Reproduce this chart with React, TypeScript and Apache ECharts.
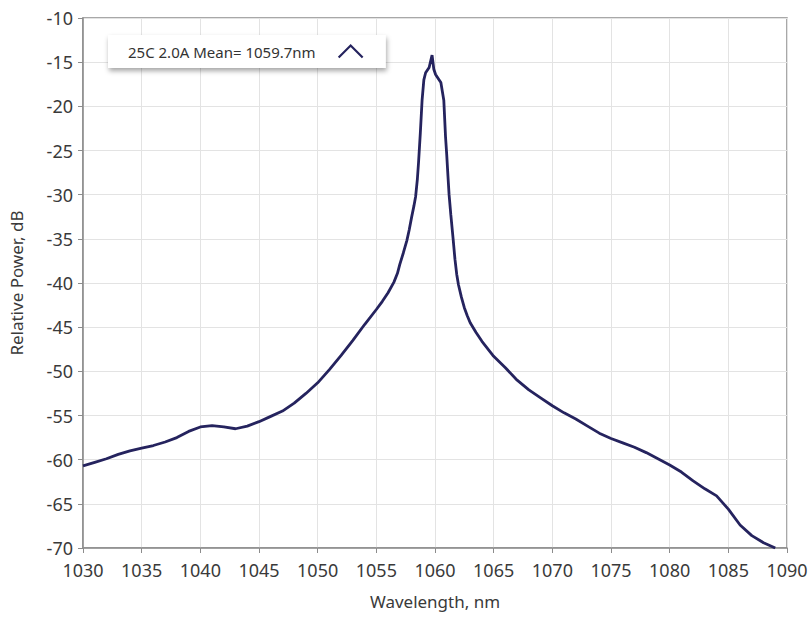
import React, { useEffect, useRef } from "react";
import * as echarts from "echarts";

const seriesName = "25C 2.0A Mean= 1059.7nm";
const xTickLabels = ["1030", "1035", "1040", "1045", "1050", "1055", "1060", "1065", "1070", "1075", "1080", "1085", "1090"];
const yTickLabels = ["-10", "-15", "-20", "-25", "-30", "-35", "-40", "-45", "-50", "-55", "-60", "-65", "-70"];

const wavelength = [
  1030, 1031, 1032, 1033, 1034, 1035, 1036, 1037, 1038, 1039, 1040, 1041, 1042, 1043, 1044, 1045,
  1046, 1047, 1048, 1049, 1050, 1051, 1052, 1053, 1054, 1055, 1055.5, 1056, 1056.5, 1056.8, 1057, 1057.3, 1057.6,
  1057.8, 1058, 1058.2, 1058.35, 1058.5, 1058.6, 1058.75, 1058.9, 1059.05, 1059.2, 1059.5, 1059.75, 1059.9, 1060.05, 1060.3,
  1060.5, 1060.75, 1060.9, 1061.0, 1061.1, 1061.2, 1061.35, 1061.55, 1061.7, 1061.85, 1062, 1062.25, 1062.5, 1062.75, 1063, 1063.5, 1064, 1065,
  1066, 1067, 1068, 1069, 1070, 1071, 1072, 1073, 1074, 1075, 1076, 1077, 1078, 1079, 1080, 1081,
  1082, 1083, 1084, 1085, 1086, 1087, 1088, 1089,
];
const power = [
  -60.7, -60.3, -59.9, -59.4, -59.0, -58.7, -58.4, -58.0, -57.5, -56.8, -56.3, -56.15, -56.3, -56.5, -56.2, -55.7,
  -55.1, -54.5, -53.6, -52.5, -51.3, -49.8, -48.2, -46.5, -44.7, -43.0, -42.1, -41.1, -39.9, -38.9, -37.9, -36.6, -35.2,
  -34.0, -32.6, -31.3, -30.2, -28.2, -26.3, -23.0, -19.3, -17.0, -16.2, -15.6, -14.2, -15.8, -16.4, -16.9,
  -17.3, -19.3, -23.5, -25.5, -27.8, -30.0, -32.3, -35.1, -37.3, -39.0, -40.2, -41.6, -42.8, -43.7, -44.5, -45.6, -46.6, -48.3,
  -49.6, -51.0, -52.1, -53.0, -53.9, -54.7, -55.4, -56.2, -57.0, -57.6, -58.1, -58.6, -59.2, -59.9, -60.6, -61.4,
  -62.4, -63.3, -64.1, -65.6, -67.4, -68.6, -69.4, -70.0,
];

const FONT = "'Noto Sans', sans-serif";
const TEXT = "#3a3a3a";
const LINE = "#25235e";

export default function App() {
  const ref = useRef<HTMLDivElement>(null);
  useEffect(() => {
    if (!ref.current) return;
    const chart = echarts.init(ref.current, null, { renderer: "svg" });
    const data = wavelength.map((w, i) => [w, power[i]]);
    chart.setOption({
      animation: false,
      backgroundColor: "#ffffff",
      grid: { left: 82, right: 25, top: 18, bottom: 71, show: true, borderColor: "#8c8c8c", borderWidth: 1.5, backgroundColor: "transparent" },
      legend: {
        show: true,
        left: 108,
        top: 35,
        align: "right",
        padding: [9, 22, 9, 20],
        itemWidth: 28,
        itemHeight: 12,
        backgroundColor: "#ffffff",
        shadowColor: "rgba(0,0,0,0.35)",
        shadowBlur: 5,
        shadowOffsetX: 1,
        shadowOffsetY: 3,
        textStyle: { color: "#333333", fontSize: 15, fontFamily: FONT, padding: [0, 16, 0, 0] },
        data: [
          {
            name: seriesName,
            icon: "path://M0,12L10,2L20,12",
            itemStyle: { color: "transparent", borderColor: LINE, borderWidth: 2.2 },
          },
        ],
      },
      xAxis: {
        type: "value",
        min: 1030,
        max: 1090,
        interval: 5,
        name: "Wavelength, nm",
        nameLocation: "middle",
        nameGap: 45,
        nameTextStyle: { color: TEXT, fontSize: 17, fontFamily: FONT },
        axisLine: { show: true, onZero: false, lineStyle: { color: "#8c8c8c", width: 1.5 } },
        axisTick: { show: true, length: 5, lineStyle: { color: "#8c8c8c" } },
        axisLabel: {
          color: TEXT,
          fontSize: 18,
          fontFamily: FONT,
          margin: 13,
          formatter: (v: number) => xTickLabels[Math.round((v - 1030) / 5)] ?? String(v),
        },
        splitLine: { show: true, lineStyle: { color: "#e3e3e3", width: 1 } },
      },
      yAxis: {
        type: "value",
        min: -70,
        max: -10,
        interval: 5,
        name: "Relative Power, dB",
        nameLocation: "middle",
        nameGap: 58,
        nameTextStyle: { color: TEXT, fontSize: 17, fontFamily: FONT },
        axisLine: { show: true, onZero: false, lineStyle: { color: "#8c8c8c", width: 1.5 } },
        axisTick: { show: true, length: 5, lineStyle: { color: "#8c8c8c" } },
        axisLabel: {
          color: TEXT,
          fontSize: 18,
          fontFamily: FONT,
          margin: 10,
          formatter: (v: number) => yTickLabels[Math.round((-10 - v) / 5)] ?? String(v),
        },
        splitLine: { show: true, lineStyle: { color: "#e3e3e3", width: 1 } },
      },
      series: [
        {
          name: seriesName,
          type: "line",
          data,
          showSymbol: false,
          symbol: "none",
          smooth: false,
          lineStyle: { color: LINE, width: 2.8 },
          itemStyle: { color: LINE },
        },
      ],
    });
    return () => chart.dispose();
  }, []);
  return <div ref={ref} style={{ position: "fixed", left: 0, top: 0, width: 812, height: 619 }} />;
}
